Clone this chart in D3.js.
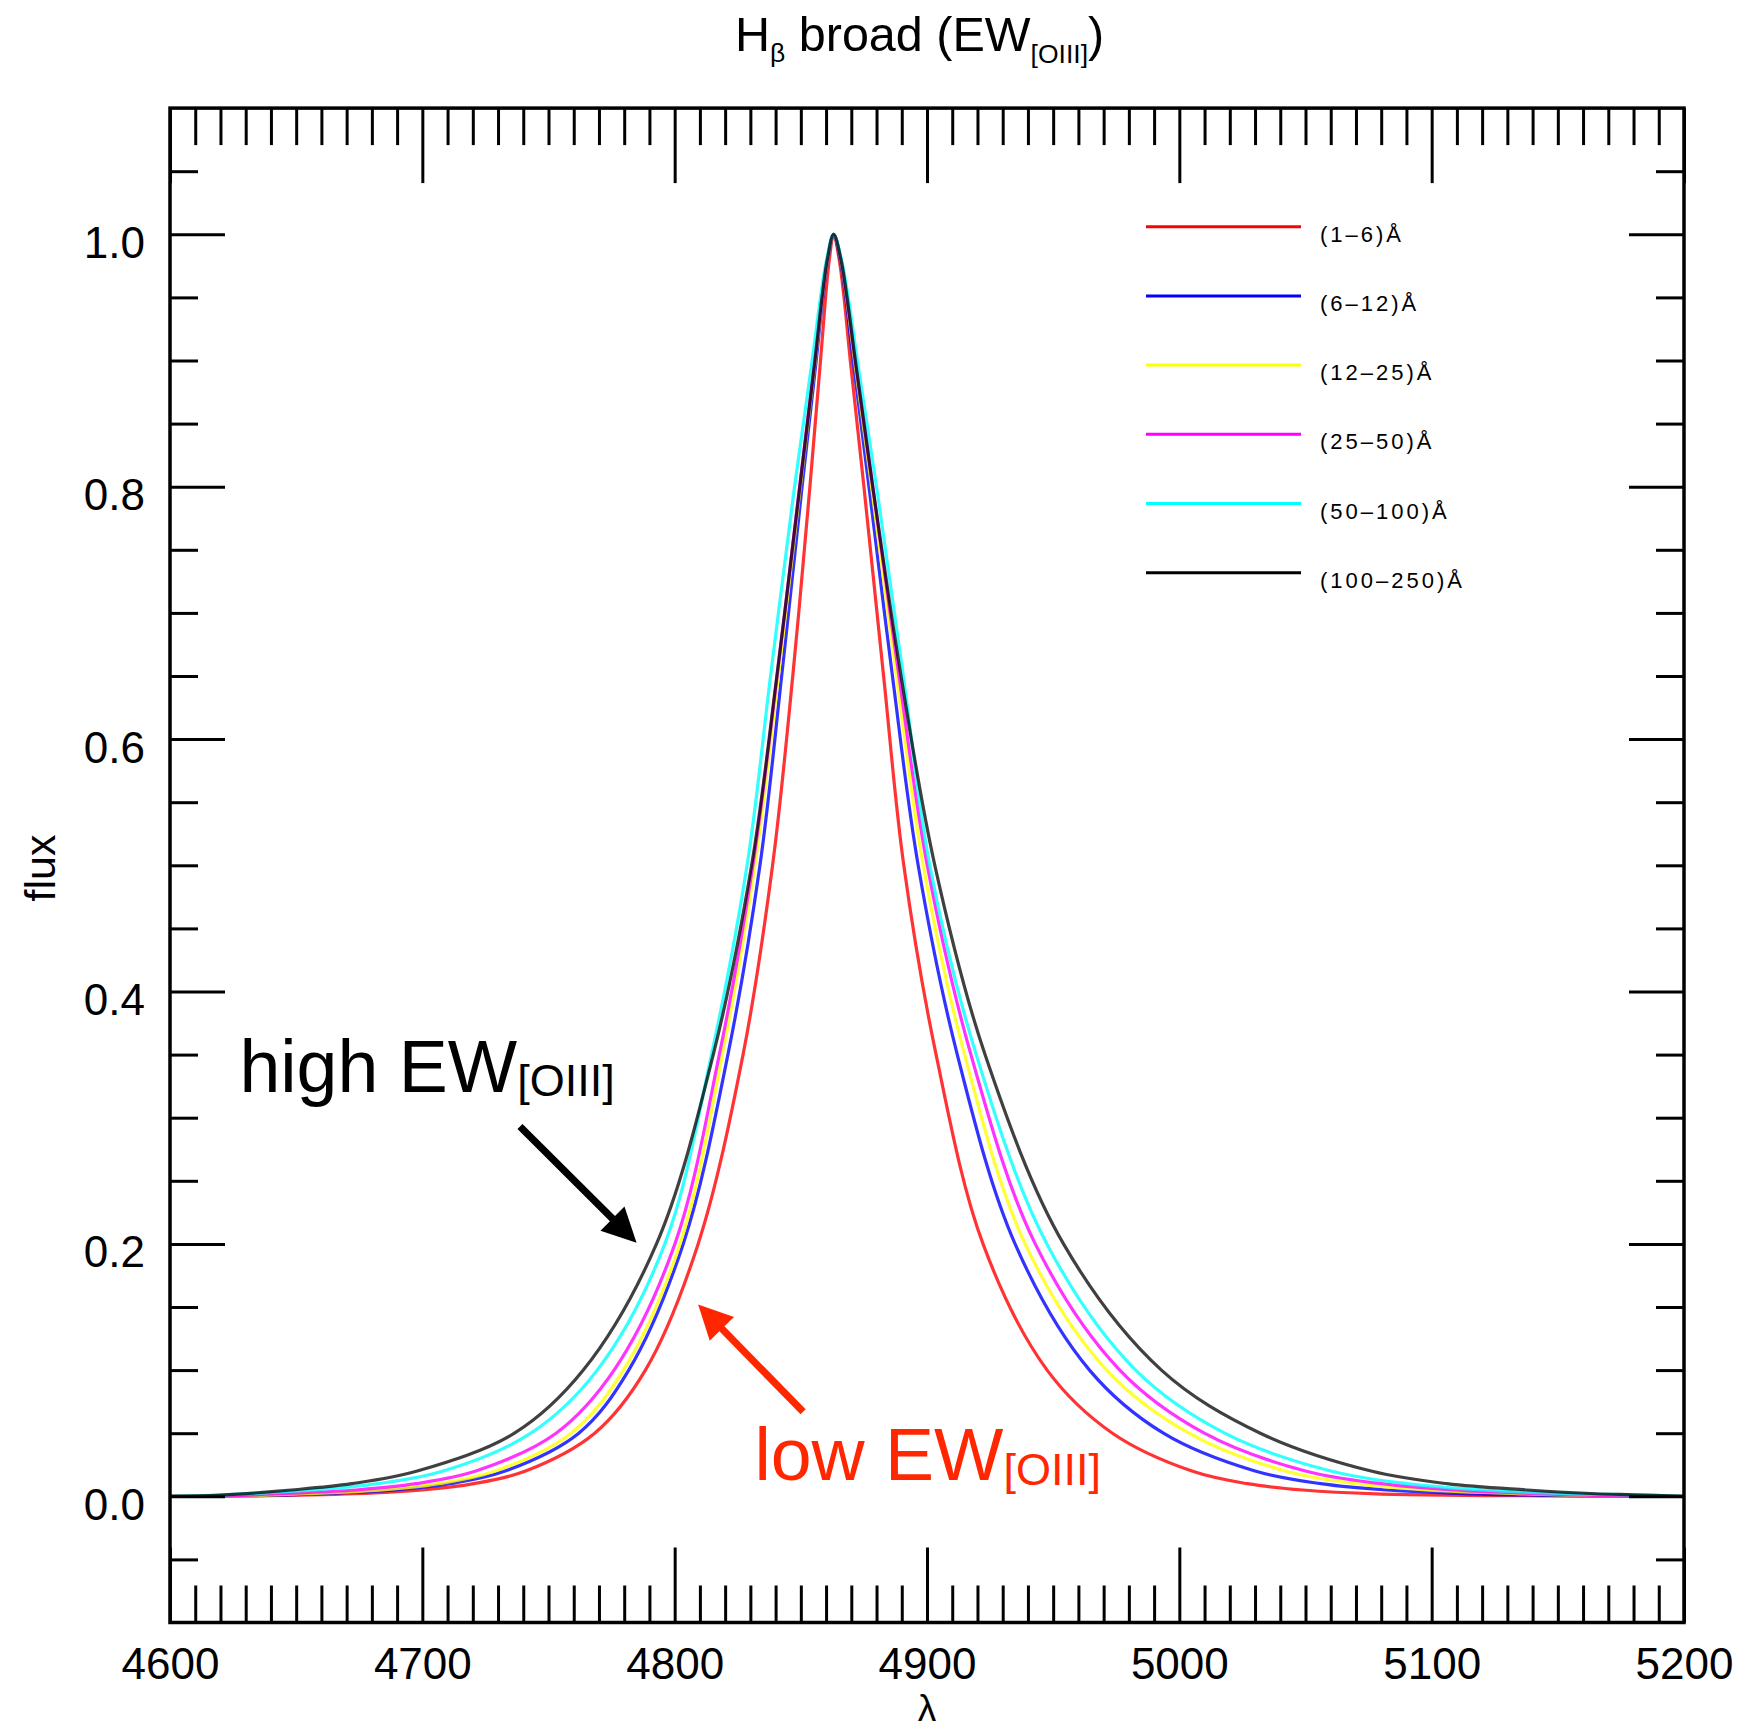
<!DOCTYPE html>
<html>
<head>
<meta charset="utf-8">
<script src="https://cdn.jsdelivr.net/npm/d3@7"></script>
<style>
  html, body { margin: 0; padding: 0; background: #fff; }
  svg { display: block; font-family: "Liberation Sans", Arial, Helvetica, sans-serif; }
</style>
</head>
<body>
<svg id="chart" width="1738" height="1729"></svg>
<script>
// Normalised broad H-beta profiles, one per EW[OIII] bin: [wavelength (Å), flux]
const ew1to6 = [[4600,0],[4620,0],[4673.4,0.002],[4700.1,0.005],[4720.4,0.01],[4740.9,0.02],[4768.3,0.05],[4788.4,0.1],[4809.3,0.2],[4827.1,0.35],[4838.8,0.5],[4846.8,0.65],[4853.6,0.8],[4857.8,0.9],[4859.8,0.95],[4861.3,0.98],[4863,1.0],[4865.2,0.98],[4867.1,0.95],[4869.6,0.9],[4875,0.8],[4882.8,0.65],[4890.8,0.5],[4903.6,0.35],[4922.2,0.2],[4947.6,0.1],[4973.5,0.05],[5005,0.02],[5027,0.01],[5049,0.005],[5078,0.002],[5180,0],[5200,0]];
const ew6to12 = [[4600,0],[4620,0],[4660.7,0.002],[4689.2,0.005],[4710.9,0.01],[4732.8,0.02],[4762,0.05],[4781.8,0.1],[4803.4,0.2],[4821.1,0.35],[4833.8,0.5],[4842.4,0.65],[4850.5,0.8],[4856.1,0.9],[4858.7,0.95],[4860.7,0.98],[4863,1.0],[4865.6,0.98],[4867.8,0.95],[4870.7,0.9],[4877,0.8],[4886.3,0.65],[4896.5,0.5],[4912,0.35],[4934.9,0.2],[4964.4,0.1],[4993.7,0.05],[5030,0.02],[5056,0.01],[5082,0.005],[5115,0.002],[5180,0],[5200,0]];
const ew12to25 = [[4600,0],[4620,0],[4654.7,0.002],[4684,0.005],[4706.4,0.01],[4728.9,0.02],[4759,0.05],[4779.7,0.1],[4802.1,0.2],[4818.9,0.35],[4831.8,0.5],[4841.1,0.65],[4849.8,0.8],[4855.7,0.9],[4858.5,0.95],[4860.6,0.98],[4863,1.0],[4865.8,0.98],[4868.1,0.95],[4871.3,0.9],[4878,0.8],[4887.9,0.65],[4898.5,0.5],[4914.9,0.35],[4938.9,0.2],[4971.2,0.1],[5003.8,0.05],[5042,0.02],[5070,0.01],[5098,0.005],[5135,0.002],[5180,0],[5200,0]];
const ew25to50 = [[4600,0],[4620,0],[4642.7,0.002],[4673.7,0.005],[4697.4,0.01],[4721.2,0.02],[4753,0.05],[4776,0.1],[4800.1,0.2],[4817.7,0.35],[4831,0.5],[4840.6,0.65],[4849.5,0.8],[4855.5,0.9],[4858.4,0.95],[4860.5,0.98],[4863,1.0],[4865.9,0.98],[4868.3,0.95],[4871.6,0.9],[4878.5,0.8],[4888.9,0.65],[4900.1,0.5],[4917.4,0.35],[4942.9,0.2],[4976.4,0.1],[5009.9,0.05],[5050,0.02],[5080,0.01],[5108,0.005],[5145,0.002],[5180,0],[5200,0]];
const ew50to100 = [[4600,0],[4620,0.001],[4656.5,0.005],[4682.3,0.01],[4708.3,0.02],[4743,0.05],[4769.3,0.1],[4796.1,0.2],[4814.6,0.35],[4828.7,0.5],[4838,0.65],[4847.5,0.8],[4854.5,0.9],[4857.8,0.95],[4860.2,0.98],[4863,1.0],[4866.1,0.98],[4868.8,0.95],[4872.4,0.9],[4880,0.8],[4890.6,0.65],[4901.1,0.5],[4919.5,0.35],[4947.5,0.2],[4982.7,0.1],[5018,0.05],[5060,0.02],[5090,0.01],[5120,0.005],[5155,0.002],[5180,0.0012],[5200,0]];
const ew100to250 = [[4600,0],[4620,0.001],[4648,0.005],[4672,0.01],[4698,0.02],[4736.5,0.05],[4763.8,0.1],[4792.8,0.2],[4815.3,0.35],[4830.5,0.5],[4840.5,0.65],[4849.6,0.8],[4855.6,0.9],[4858.4,0.95],[4860.5,0.98],[4863,1.0],[4865.9,0.98],[4868.3,0.95],[4871.6,0.9],[4878.5,0.8],[4889.7,0.65],[4903.1,0.5],[4923,0.35],[4954.1,0.2],[4992.9,0.1],[5032.1,0.05],[5076,0.02],[5106,0.01],[5138,0.005],[5165,0.002],[5180,0.0012],[5200,0]];

const seriesData   = [ew1to6, ew6to12, ew12to25, ew25to50, ew50to100, ew100to250];
const seriesLabels = ["(1–6)Å", "(6–12)Å", "(12–25)Å", "(25–50)Å", "(50–100)Å", "(100–250)Å"];
const seriesColors = ["#ff0000", "#0000ff", "#ffff00", "#ff00ff", "#00ffff", "#000000"];

// Axis ranges and ticks
const xDomain = [4600, 5200];
const yDomain = [-0.1, 1.1];
const xMajorTicks = [4600, 4700, 4800, 4900, 5000, 5100, 5200];
const xMinorTicks = d3.range(4600, 5201, 10).filter(v => v % 100 !== 0);
const yMajorTicks = [0.0, 0.2, 0.4, 0.6, 0.8, 1.0];
const yMinorTicks = d3.range(-1, 22).filter(i => i % 4 !== 0).map(i => i * 0.05);

// Annotation anchors in data units [wavelength, flux]
const highArrow = { from: [4738.7, 0.293], to: [4784.9, 0.201] };
const lowArrow  = { from: [4850.9, 0.067], to: [4809.3, 0.152] };
const highLabelAt = [4627.5, 0.3206];
const lowLabelAt  = [4831.6, 0.0129];

const svg = d3.select("#chart");
const W = 1738, H = 1729;
const plot = { left: 170, right: 1684, top: 108.1, bottom: 1622.5 };

svg.append("rect").attr("width", W).attr("height", H).attr("fill", "#fff");

const x = d3.scaleLinear().domain(xDomain).range([plot.left, plot.right]);
const y = d3.scaleLinear().domain(yDomain).range([plot.bottom, plot.top]);

// Title: H_beta broad (EW_[OIII])
const title = svg.append("text")
  .attr("x", 735).attr("y", 51)
  .attr("font-size", 48.5).attr("fill", "#000");
title.append("tspan").text("H");
title.append("tspan").attr("font-size", 26.5).attr("dy", 11).text("β");
title.append("tspan").attr("dy", -11).text(" broad (EW");
title.append("tspan").attr("font-size", 26.5).attr("dy", 12).text("[OIII]");
title.append("tspan").attr("dy", -12).text(")");

// Clip region for the profiles
svg.append("clipPath").attr("id", "plotClip")
  .append("rect")
  .attr("x", plot.left).attr("y", plot.top)
  .attr("width", plot.right - plot.left).attr("height", plot.bottom - plot.top);

const line = d3.line()
  .x(d => x(d[0]))
  .y(d => y(d[1]))
  .curve(d3.curveCatmullRom.alpha(0.5));

svg.append("g").attr("clip-path", "url(#plotClip)")
  .selectAll("path")
  .data(seriesData)
  .join("path")
  .attr("d", line)
  .attr("fill", "none")
  .attr("stroke", (d, i) => seriesColors[i])
  .attr("stroke-width", 3.2)
  .attr("stroke-opacity", (d, i) => i === 5 ? 0.75 : 0.8)
  .attr("stroke-linejoin", "round");

// Axes: inward ticks on all four sides
const xMajLen = 75, xMinLen = 37, yMajLen = 55, yMinLen = 28;
const tickStroke = 3;

function styleAxis(g) {
  g.select(".domain").remove();
  g.selectAll(".tick line").attr("stroke", "#000").attr("stroke-width", tickStroke);
}

svg.append("g").attr("transform", `translate(0,${plot.bottom})`)
  .call(d3.axisBottom(x).tickValues(xMinorTicks).tickSize(-xMinLen).tickFormat(""))
  .call(styleAxis);
const xAxisMajor = svg.append("g").attr("transform", `translate(0,${plot.bottom})`)
  .call(d3.axisBottom(x).tickValues(xMajorTicks).tickSize(-xMajLen).tickFormat(d3.format("d")))
  .call(styleAxis);
xAxisMajor.selectAll(".tick text")
  .attr("y", 56.5).attr("dy", null)
  .attr("font-size", 44).attr("fill", "#000")
  .attr("font-family", "'Liberation Sans', Arial, Helvetica, sans-serif");

svg.append("g").attr("transform", `translate(0,${plot.top})`)
  .call(d3.axisTop(x).tickValues(xMinorTicks).tickSize(-xMinLen).tickFormat(""))
  .call(styleAxis);
svg.append("g").attr("transform", `translate(0,${plot.top})`)
  .call(d3.axisTop(x).tickValues(xMajorTicks).tickSize(-xMajLen).tickFormat(""))
  .call(styleAxis);

svg.append("g").attr("transform", `translate(${plot.left},0)`)
  .call(d3.axisLeft(y).tickValues(yMinorTicks).tickSize(-yMinLen).tickFormat(""))
  .call(styleAxis);
const yAxisMajor = svg.append("g").attr("transform", `translate(${plot.left},0)`)
  .call(d3.axisLeft(y).tickValues(yMajorTicks).tickSize(-yMajLen).tickFormat(d3.format(".1f")))
  .call(styleAxis);
yAxisMajor.selectAll(".tick text")
  .attr("x", -25).attr("y", 23).attr("dy", null)
  .attr("font-size", 44).attr("fill", "#000")
  .attr("font-family", "'Liberation Sans', Arial, Helvetica, sans-serif");

svg.append("g").attr("transform", `translate(${plot.right},0)`)
  .call(d3.axisRight(y).tickValues(yMinorTicks).tickSize(-yMinLen).tickFormat(""))
  .call(styleAxis);
svg.append("g").attr("transform", `translate(${plot.right},0)`)
  .call(d3.axisRight(y).tickValues(yMajorTicks).tickSize(-yMajLen).tickFormat(""))
  .call(styleAxis);

// Frame
svg.append("rect")
  .attr("x", plot.left).attr("y", plot.top)
  .attr("width", plot.right - plot.left).attr("height", plot.bottom - plot.top)
  .attr("fill", "none").attr("stroke", "#000").attr("stroke-width", 3.5);

// Axis titles
svg.append("text")
  .attr("x", (plot.left + plot.right) / 2).attr("y", 1721)
  .attr("text-anchor", "middle").attr("font-size", 37).attr("fill", "#000")
  .text("λ");
svg.append("text")
  .attr("transform", "translate(55,868) rotate(-90)")
  .attr("text-anchor", "middle").attr("font-size", 43).attr("fill", "#000")
  .text("flux");

// Legend
const legend = svg.append("g");
const legX0 = 1146, legX1 = 1301, legY0 = 226.7, legStep = 69.2;
seriesLabels.forEach((lab, i) => {
  const ly = legY0 + i * legStep;
  legend.append("line")
    .attr("x1", legX0).attr("x2", legX1).attr("y1", ly).attr("y2", ly)
    .attr("stroke", seriesColors[i]).attr("stroke-width", 3);
  legend.append("text")
    .attr("x", 1320).attr("y", ly + 15)
    .attr("font-size", 22).attr("letter-spacing", 3).attr("fill", "#000")
    .text(lab);
});

// Annotations
function arrow(from, to, color) {
  const x0 = x(from[0]), y0 = y(from[1]), x1 = x(to[0]), y1 = y(to[1]);
  const dx = x1 - x0, dy = y1 - y0, len = Math.hypot(dx, dy);
  const ux = dx / len, uy = dy / len, nx = -uy, ny = ux;
  const headLen = 34, headHalf = 17, shaftHalf = 3.6;
  const bx = x1 - ux * headLen, by = y1 - uy * headLen;
  const pts = [
    [x0 + nx * shaftHalf, y0 + ny * shaftHalf],
    [bx + nx * shaftHalf, by + ny * shaftHalf],
    [bx + nx * headHalf, by + ny * headHalf],
    [x1, y1],
    [bx - nx * headHalf, by - ny * headHalf],
    [bx - nx * shaftHalf, by - ny * shaftHalf],
    [x0 - nx * shaftHalf, y0 - ny * shaftHalf]
  ];
  svg.append("path").attr("d", "M" + pts.map(p => p.join(",")).join("L") + "Z").attr("fill", color);
}
arrow(highArrow.from, highArrow.to, "#000");
arrow(lowArrow.from, lowArrow.to, "#ff2600");

function ewLabel(at, word, color) {
  const t = svg.append("text")
    .attr("x", x(at[0])).attr("y", y(at[1]))
    .attr("font-size", 73.5).attr("fill", color);
  t.append("tspan").text(word + " EW");
  t.append("tspan").attr("font-size", 45).attr("dy", 4.5).text("[OIII]");
}
ewLabel(highLabelAt, "high", "#000");
ewLabel(lowLabelAt, "low", "#ff2600");
</script>
</body>
</html>
